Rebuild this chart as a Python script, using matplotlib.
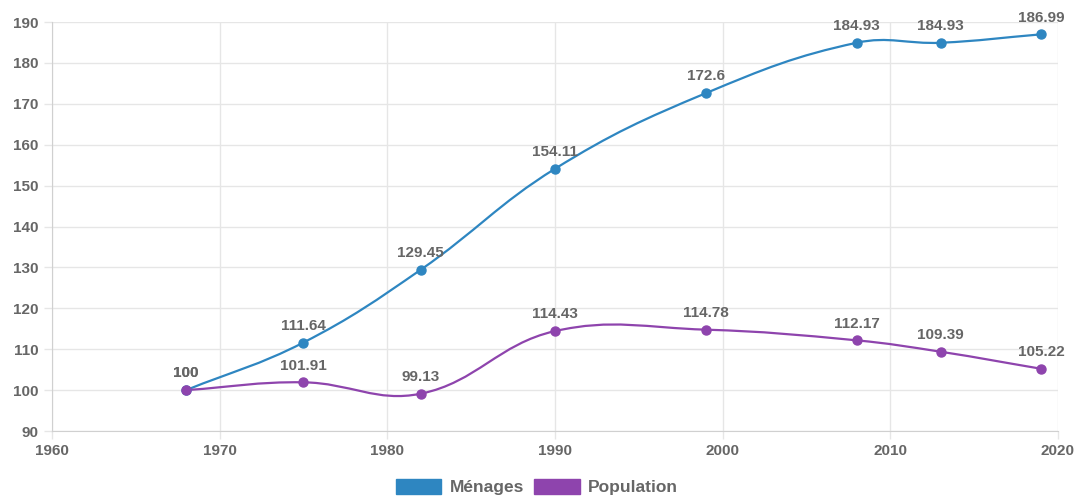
import matplotlib.pyplot as plt
import numpy as np
from matplotlib.path import Path
from matplotlib.patches import PathPatch, Patch

plt.rcParams['font.family'] = ['Liberation Sans', 'DejaVu Sans']

years = [1968, 1975, 1982, 1990, 1999, 2008, 2013, 2019]
menages = [100, 111.64, 129.45, 154.11, 172.6, 184.93, 184.93, 186.99]
population = [100, 101.91, 99.13, 114.43, 114.78, 112.17, 109.39, 105.22]
series_names = ['Ménages', 'Population']
series_colors = ['#2e86c1', '#8e44ad']
x_ticks = [1960, 1970, 1980, 1990, 2000, 2010, 2020]
y_ticks = [90, 100, 110, 120, 130, 140, 150, 160, 170, 180, 190]

TEXT = '#666666'
GRID = '#e6e6e6'


def spline_path(ax, xs, ys, tension=0.4):
    """Courbe de Bezier comme Chart.js (tension 0.4), calculee en pixels."""
    pts = ax.transData.transform(np.column_stack([xs, ys]))
    n = len(pts)
    verts = [pts[0]]
    codes = [Path.MOVETO]
    ctrl_next = [None] * n
    ctrl_prev = [None] * n
    for i in range(n):
        prev = pts[max(i - 1, 0)]
        cur = pts[i]
        nxt = pts[min(i + 1, n - 1)]
        d01 = np.hypot(*(cur - prev))
        d12 = np.hypot(*(nxt - cur))
        tot = d01 + d12
        s01 = d01 / tot if tot else 0
        s12 = d12 / tot if tot else 0
        ctrl_prev[i] = cur - tension * s01 * (nxt - prev)
        ctrl_next[i] = cur + tension * s12 * (nxt - prev)
    for i in range(1, n):
        verts += [ctrl_next[i - 1], ctrl_prev[i], pts[i]]
        codes += [Path.CURVE4] * 3
    return Path(verts, codes)


fig = plt.figure(figsize=(10.74, 4.96), dpi=100)
ax = fig.add_axes([0.0484, 0.131, 0.9366, 0.8246])
ax.set_xlim(1960, 2020)
ax.set_ylim(90, 190)
ax.set_xticks(x_ticks)
ax.set_yticks(y_ticks)
ax.grid(True, color=GRID, linewidth=1)
ax.set_axisbelow(True)
for side in ['top', 'right']:
    ax.spines[side].set_visible(False)
for side in ['left', 'bottom']:
    ax.spines[side].set_color('#d0d0d0')
ax.tick_params(axis='both', colors=GRID, length=6, width=1,
               labelcolor=TEXT, labelsize=11)
for lab in ax.get_xticklabels() + ax.get_yticklabels():
    lab.set_fontweight('bold')

for vals, color in zip([menages, population], series_colors):
    path = spline_path(ax, years, vals)
    patch = PathPatch(path, transform=None, facecolor='none',
                      edgecolor=color, linewidth=1.6, zorder=3)
    ax.add_patch(patch)
    ax.plot(years, vals, 'o', color=color, markersize=6.5, zorder=4)
    for x, y in zip(years, vals):
        ax.annotate(f'{y:g}', (x, y), xytext=(0, 7), textcoords='offset points',
                    ha='center', va='bottom', fontsize=11, fontweight='bold',
                    color=TEXT, zorder=5)

handles = [Patch(facecolor=c, edgecolor=c) for c in series_colors]
fig.legend(handles, series_names, loc='lower center', ncol=2, frameon=False,
           bbox_to_anchor=(0.5, -0.03), handlelength=2.6, handleheight=1.0,
           columnspacing=0.6, handletextpad=0.5,
           prop={'size': 12.5, 'weight': 'bold'}, labelcolor=TEXT)

fig.savefig('out.png', dpi=100)
